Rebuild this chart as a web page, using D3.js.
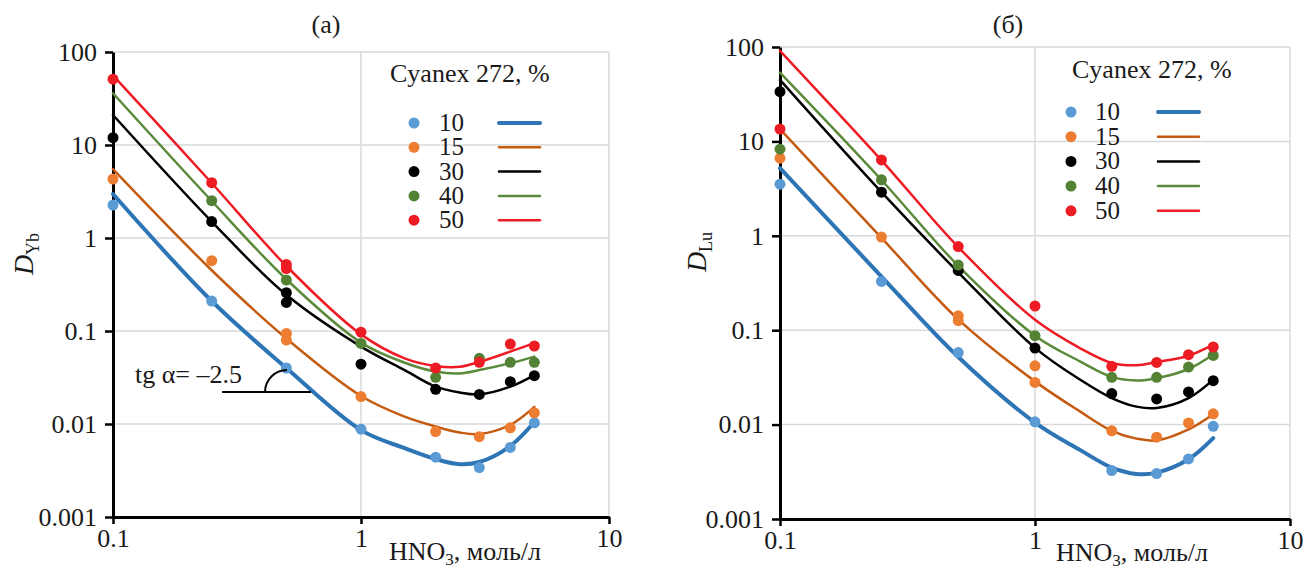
<!DOCTYPE html>
<html>
<head>
<meta charset="utf-8">
<script src="https://cdn.jsdelivr.net/npm/d3@7"></script>
<style>
  body { margin: 0; background: #fff; }
  svg text { font-family: "Liberation Serif", "Times New Roman", serif; fill: #1a1a1a; }
</style>
</head>
<body>
<script>
// Cyanex 272 content, % (series names)
var series = ["10", "15", "30", "40", "50"];

// x values of the fitted curves, HNO3 mol/l
var curveX = [0.1, 0.25, 0.5, 1, 1.5, 2, 2.5, 3, 4, 5];

// ticks
var yTicks = [0.001, 0.01, 0.1, 1, 10, 100];
var xTicks = [0.1, 1, 10];

// (a) D_Yb, measured points per series [HNO3, D]
var ybDots = [
  [[0.1, 2.26], [0.25, 0.21], [0.5, 0.040], [1, 0.0088], [2, 0.0044], [3, 0.0034], [4, 0.0056], [5, 0.0103]],
  [[0.1, 4.3], [0.25, 0.57], [0.5, 0.094], [0.5, 0.080], [1, 0.0197], [2, 0.0083], [3, 0.0073], [4, 0.0091], [5, 0.0132]],
  [[0.1, 12], [0.25, 1.5], [0.5, 0.258], [0.5, 0.203], [1, 0.044], [2, 0.0236], [3, 0.0208], [4, 0.0285], [5, 0.0331]],
  [[0.25, 2.52], [0.5, 0.353], [1, 0.0736], [2, 0.0318], [3, 0.0508], [4, 0.046], [5, 0.046]],
  [[0.1, 51], [0.25, 3.93], [0.5, 0.52], [0.5, 0.47], [1, 0.097], [2, 0.040], [3, 0.046], [4, 0.0724], [5, 0.069]]
];

// (a) fitted curves, values at curveX
var ybCurves = [
  [2.97, 0.21, 0.040, 0.0086, 0.0055, 0.0042, 0.0037, 0.0039, 0.0058, 0.0105],
  [5.5, 0.45, 0.083, 0.020, 0.012, 0.0094, 0.0081, 0.0078, 0.0098, 0.0153],
  [21, 1.5, 0.245, 0.068, 0.038, 0.0252, 0.0218, 0.0208, 0.0252, 0.0336],
  [36, 2.5, 0.36, 0.075, 0.0456, 0.0366, 0.035, 0.038, 0.045, 0.053],
  [56, 3.9, 0.5, 0.092, 0.0508, 0.042, 0.0412, 0.0465, 0.060, 0.074]
];

// (б) D_Lu, measured points per series
var luDots = [
  [[0.1, 3.52], [0.25, 0.329], [0.5, 0.058], [1, 0.0107], [2, 0.00326], [3, 0.00303], [4, 0.00433], [5, 0.0096]],
  [[0.1, 6.64], [0.25, 0.97], [0.5, 0.142], [0.5, 0.126], [1, 0.042], [1, 0.028], [2, 0.0086], [3, 0.00735], [4, 0.0104], [5, 0.013]],
  [[0.1, 33.6], [0.25, 2.9], [0.5, 0.43], [1, 0.0647], [2, 0.0213], [3, 0.0187], [4, 0.0222], [5, 0.0292]],
  [[0.1, 8.27], [0.25, 3.92], [0.5, 0.49], [1, 0.0875], [2, 0.0317], [3, 0.0317], [4, 0.0407], [5, 0.054]],
  [[0.1, 13.5], [0.25, 6.37], [0.5, 0.77], [1, 0.18], [2, 0.0414], [3, 0.0456], [4, 0.055], [5, 0.0664]]
];

// (б) fitted curves
var luCurves = [
  [5.2, 0.37, 0.052, 0.0105, 0.0054, 0.0035, 0.0030, 0.0031, 0.0043, 0.0072],
  [13.5, 0.95, 0.13, 0.0287, 0.0138, 0.0086, 0.0071, 0.0068, 0.0089, 0.0129],
  [44.8, 2.9, 0.41, 0.065, 0.030, 0.0191, 0.0155, 0.0150, 0.0191, 0.030],
  [53.5, 3.9, 0.48, 0.0875, 0.0468, 0.032, 0.0293, 0.031, 0.0388, 0.0553],
  [91, 6.3, 0.76, 0.129, 0.0647, 0.045, 0.0425, 0.046, 0.0537, 0.0703]
];

// styles
var dotColors = ["#5b9bd5", "#ed7d31", "#000000", "#548235", "#ed1c24"];
var lineColors = ["#2e75b6", "#c55a11", "#000000", "#5a8a3a", "#ed1c24"];
var lineWidths = [4, 2.5, 2.5, 2.5, 2.5];

var svg = d3.select("body").append("svg")
  .attr("width", 1303)
  .attr("height", 570);

function panel(opt) {
  var x = d3.scaleLog().domain([0.1, 10]).range([opt.x0, opt.x1]);
  var y = d3.scaleLog().domain([0.001, 100]).range([opt.y1, opt.y0]);
  var g = svg.append("g");

  // grid
  g.selectAll(".hg").data(yTicks).enter().append("line")
    .attr("x1", opt.x0).attr("x2", opt.x1)
    .attr("y1", d => y(d)).attr("y2", d => y(d))
    .attr("stroke", "#d9d9d9").attr("stroke-width", 1.5);
  g.selectAll(".vg").data(xTicks.slice(1)).enter().append("line")
    .attr("x1", d => x(d)).attr("x2", d => x(d))
    .attr("y1", opt.y0).attr("y2", opt.y1)
    .attr("stroke", "#d9d9d9").attr("stroke-width", 1.5);

  // axes
  var ya = g.append("g").attr("transform", "translate(" + opt.x0 + ",0)")
    .call(d3.axisLeft(y).tickValues(yTicks).tickFormat(d => String(d)).tickSize(8).tickSizeOuter(0).tickPadding(8));
  var xa = g.append("g").attr("transform", "translate(0," + opt.y1 + ")")
    .call(d3.axisBottom(x).tickValues(xTicks).tickFormat(d => String(d)).tickSize(7).tickSizeOuter(0).tickPadding(5));
  [ya, xa].forEach(function(a) {
    a.attr("font-family", null);
    a.select(".domain").attr("stroke", "#000").attr("stroke-width", 3);
    a.selectAll(".tick line").attr("stroke", "#000").attr("stroke-width", 2.5);
    a.selectAll("text").style("font-size", "26px").attr("fill", "#1a1a1a")
      .style("font-family", "'Liberation Serif', serif");
  });

  // curves
  var line = d3.line()
    .x(d => x(d[0])).y(d => y(d[1]))
    .curve(d3.curveCatmullRom.alpha(0.5));
  opt.curves.forEach(function(vals, i) {
    g.append("path")
      .datum(curveX.map((c, k) => [c, vals[k]]))
      .attr("d", line)
      .attr("fill", "none")
      .attr("stroke", lineColors[i])
      .attr("stroke-width", lineWidths[i])
      .attr("stroke-linecap", "round");
  });

  // dots
  opt.dots.forEach(function(pts, i) {
    g.selectAll(".d" + i).data(pts).enter().append("circle")
      .attr("cx", d => x(d[0])).attr("cy", d => y(d[1]))
      .attr("r", 5.5)
      .attr("fill", dotColors[i]);
  });

  // panel title
  g.append("text").attr("x", opt.titleX).attr("y", 33)
    .attr("text-anchor", "middle").style("font-size", "26px").text(opt.title);

  // y label
  var yl = g.append("text")
    .attr("transform", "translate(" + opt.ylabX + "," + opt.ylabY + ") rotate(-90)")
    .attr("text-anchor", "middle").style("font-size", "28px");
  yl.append("tspan").style("font-style", "italic").text("D");
  yl.append("tspan").style("font-size", "18px").attr("dy", 6).text(opt.sub);

  // x label
  var xl = g.append("text").attr("x", opt.xlabX).attr("y", opt.xlabY).style("font-size", "26px");
  xl.append("tspan").text("HNO");
  xl.append("tspan").style("font-size", "17px").attr("dy", 5).text("3");
  xl.append("tspan").attr("dy", -5).text(", моль/л");

  // legend
  var L = opt.legend;
  g.append("text").attr("x", L.x).attr("y", L.titleY).style("font-size", "26px").text("Cyanex 272, %");
  series.forEach(function(s, i) {
    var ry = L.y + i * L.step;
    g.append("circle").attr("cx", L.dotX).attr("cy", ry).attr("r", 5.5).attr("fill", dotColors[i]);
    g.append("text").attr("x", L.labX).attr("y", ry + 8).style("font-size", "25px").text(s);
    g.append("line").attr("x1", L.l1).attr("x2", L.l2).attr("y1", ry).attr("y2", ry)
      .attr("stroke", lineColors[i]).attr("stroke-width", lineWidths[i]).attr("stroke-linecap", "round");
  });
  return g;
}

var left = panel({
  x0: 113, x1: 609, y0: 52, y1: 517,
  dots: ybDots, curves: ybCurves,
  title: "(a)", titleX: 326,
  sub: "Yb", ylabX: 33, ylabY: 254,
  xlabX: 389, xlabY: 560,
  legend: { x: 390, titleY: 82, y: 123, step: 24.3, dotX: 414, labX: 439, l1: 499, l2: 540 }
});

panel({
  x0: 780, x1: 1290, y0: 47, y1: 519,
  dots: luDots, curves: luCurves,
  title: "(б)", titleX: 1008,
  sub: "Lu", ylabX: 706, ylabY: 252,
  xlabX: 1056, xlabY: 561,
  legend: { x: 1072, titleY: 78, y: 112, step: 24.7, dotX: 1071, labX: 1095, l1: 1158, l2: 1199 }
});

// slope annotation in panel (a)
left.append("text").attr("x", 135).attr("y", 383).style("font-size", "26px").text("tg α= –2.5");
left.append("line").attr("x1", 222).attr("x2", 311).attr("y1", 392).attr("y2", 392)
  .attr("stroke", "#000").attr("stroke-width", 2);
left.append("path").attr("d", "M265,392 A22,22 0 0,1 287,370")
  .attr("fill", "none").attr("stroke", "#000").attr("stroke-width", 2);
</script>
</body>
</html>
